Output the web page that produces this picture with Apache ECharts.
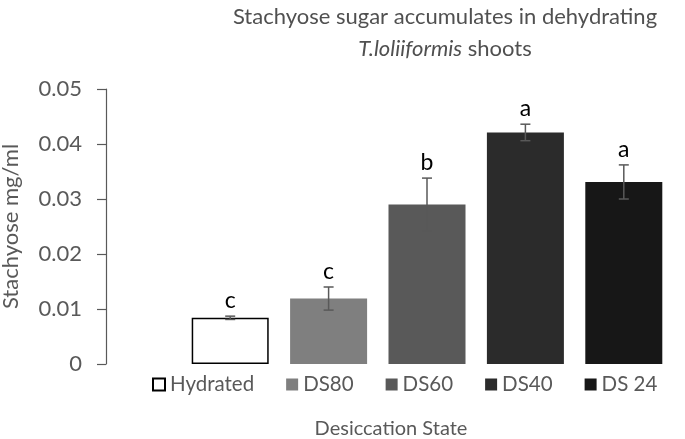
<!DOCTYPE html>
<html>
<head>
<meta charset="utf-8">
<script src="https://cdn.jsdelivr.net/npm/echarts@6/dist/echarts.min.js"></script>
<style>html,body{margin:0;padding:0;background:#fff;}#chart{width:685px;height:439px;}</style>
</head>
<body>
<div id="chart"></div>
<script>
var categories = ['Hydrated', 'DS80', 'DS60', 'DS40', 'DS 24'];
var means = [0.0084, 0.0119, 0.0290, 0.0421, 0.0331];
var errors = [0.0003, 0.0021, 0.0048, 0.0015, 0.0031];
var letters = ['c', 'c', 'b', 'a', 'a'];
var yTicks = [0, 0.01, 0.02, 0.03, 0.04, 0.05];

var fills = ['#ffffff', '#7f7f7f', '#595959', '#2b2b2b', '#171717'];
var FONT = 'Lato';

var chart = echarts.init(document.getElementById('chart'));

var barSeries = categories.map(function (name, i) {
  var d = categories.map(function (c, j) { return j === i ? means[i] : '-'; });
  return {
    name: name,
    type: 'bar',
    stack: 'one',
    barWidth: 77,
    data: d,
    itemStyle: i === 0 ? { color: '#ffffff', borderColor: '#000000', borderWidth: 1.5 } : { color: fills[i] },
    emphasis: { disabled: true }
  };
});

var errData = categories.map(function (c, i) { return [i, means[i], errors[i]]; });

var errSeries = {
  type: 'custom',
  name: 'err',
  data: errData,
  encode: { x: 0, y: 1 },
  z: 10,
  renderItem: function (params, api) {
    var i = api.value(0), m = api.value(1), e = api.value(2);
    var letter = letters[params.dataIndex];
    var top = api.coord([i, m + e]);
    var bot = api.coord([i, m - e]);
    var cap = 5;
    var style = { stroke: '#595959', lineWidth: 1.5 };
    return {
      type: 'group',
      children: [
        { type: 'line', shape: { x1: top[0], y1: top[1], x2: bot[0], y2: bot[1] }, style: style },
        { type: 'line', shape: { x1: top[0] - cap, y1: top[1], x2: top[0] + cap, y2: top[1] }, style: style },
        { type: 'line', shape: { x1: bot[0] - cap, y1: bot[1], x2: bot[0] + cap, y2: bot[1] }, style: style },
        { type: 'text', x: top[0], y: top[1] - 4, style: { text: letter, fill: '#000000', font: '23px ' + FONT, textAlign: 'center', textVerticalAlign: 'bottom' } }
      ]
    };
  }
};

var option = {
  animation: false,
  backgroundColor: '#ffffff',
  textStyle: { fontFamily: FONT },
  title: {
    text: 'Stachyose sugar accumulates in dehydrating\n{i|T.loliiformis} shoots',
    left: 440,
    top: -4,
    textAlign: 'center',
    textStyle: {
      fontFamily: FONT, fontSize: 22, fontWeight: 'normal', color: '#505050', lineHeight: 32,
      rich: { i: { fontFamily: FONT, fontSize: 22, fontStyle: 'italic', color: '#505050', lineHeight: 32 } }
    }
  },
  grid: { left: 181, right: 12, top: 89, bottom: 75, containLabel: false, outerBoundsMode: 'none' },
  legend: {
    data: categories,
    left: 147,
    top: 369,
    itemWidth: 12,
    itemHeight: 12,
    itemGap: 32,
    icon: 'rect',
    selectedMode: false,
    textStyle: { fontFamily: FONT, fontSize: 20.5, color: '#595959' }
  },
  xAxis: {
    type: 'category',
    data: categories,
    axisLine: { show: false },
    axisTick: { show: false },
    axisLabel: { show: false }
  },
  yAxis: {
    type: 'value',
    min: yTicks[0],
    max: yTicks[yTicks.length - 1],
    interval: 0.01,
    offset: 75,
    name: 'Stachyose mg/ml',
    nameLocation: 'middle',
    nameRotate: 90,
    nameGap: 84,
    nameTextStyle: { fontFamily: FONT, fontSize: 22, color: '#595959' },
    axisLine: { show: true, lineStyle: { color: '#595959', width: 1.2 } },
    axisTick: { show: true, inside: false, length: 9, lineStyle: { color: '#595959', width: 1.2 } },
    splitLine: { show: false },
    axisLabel: {
      margin: 24,
      fontFamily: FONT, fontSize: 22, color: '#595959',
      formatter: function (v) { return v === 0 ? '0' : v.toFixed(2); }
    }
  },
  graphic: [
    {
      type: 'text',
      x: 391, y: 429,
      style: { text: 'Desiccation State', font: '20px ' + FONT, fill: '#595959', textAlign: 'center', textVerticalAlign: 'middle' }
    }
  ],
  series: barSeries.concat([errSeries])
};

chart.setOption(option);
</script>
</body>
</html>
